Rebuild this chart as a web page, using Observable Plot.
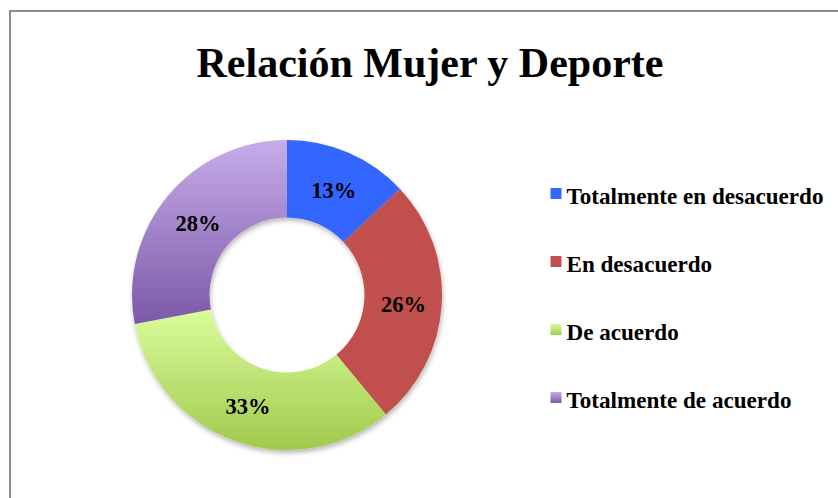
<!DOCTYPE html>
<html><head><meta charset="utf-8">
<script src="https://cdn.jsdelivr.net/npm/d3@7"></script>
<script src="https://cdn.jsdelivr.net/npm/@observablehq/plot@0.6"></script>
<style>
body{margin:0;background:#fff;}
#wrap{position:relative;width:838px;height:498px;overflow:hidden;background:#fff;font-family:"Liberation Serif","Times New Roman",serif;}
#frame{position:absolute;left:9px;top:10px;right:-10px;bottom:-10px;border-left:2px solid #8c8c8c;border-top:2px solid #8c8c8c;pointer-events:none;}
#title{position:absolute;left:0;width:860px;top:42px;text-align:center;font-size:42px;line-height:42px;font-weight:bold;color:#000;white-space:nowrap;}
#chart{position:absolute;left:0;top:0;}
#legend{position:absolute;left:540px;top:159px;}
</style></head><body>
<div id="wrap"><div id="chart"></div><div id="legend"></div><div id="title"></div><div id="frame"></div></div>
<script>
const title = "Relación Mujer y Deporte";
const categories = ["Totalmente en desacuerdo", "En desacuerdo", "De acuerdo", "Totalmente de acuerdo"];
const values = [13, 26, 33, 28];
const valueLabels = ["13%", "26%", "33%", "28%"];

const palette = ["#3366FF", "#C0504D", "url(#gGreen)", "url(#gPurple)"];
const colorOpts = {type: "ordinal", domain: categories, range: palette};
const color = Plot.scale({color: colorOpts});

const rows = categories.map((c, i) => ({category: c, value: values[i], label: valueLabels[i]}));
const slices = d3.pie().sort(null).value(d => d.value)(rows);
const INNER = 0.5, LABEL_R = 0.75;
const labelRows = slices.map(s => {
  const a = (s.startAngle + s.endAngle) / 2;
  return {label: s.data.label, x: LABEL_R * Math.sin(a), y: LABEL_R * Math.cos(a)};
});

function donut(index, scales, values, dimensions, context) {
  const cx = scales.x(0), cy = scales.y(0);
  const R = scales.x(1) - cx;
  const arc = d3.arc().innerRadius(R * INNER).outerRadius(R);
  const g = d3.create("svg:g");
  const defs = g.append("defs");
  const grad = (id, top, bottom) => {
    const lg = defs.append("linearGradient").attr("id", id).attr("x1", 0).attr("y1", 0).attr("x2", 0).attr("y2", 1);
    lg.append("stop").attr("offset", "0%").attr("stop-color", top);
    lg.append("stop").attr("offset", "100%").attr("stop-color", bottom);
  };
  grad("gGreen", "#DAFC9C", "#A1C94C");
  grad("gPurple", "#C6ADE9", "#7C58A7");
  const f = defs.append("filter").attr("id", "shadow").attr("x", "-10%").attr("y", "-10%").attr("width", "130%").attr("height", "130%");
  f.append("feDropShadow").attr("dx", 1).attr("dy", 3).attr("stdDeviation", 2.5).attr("flood-color", "#000").attr("flood-opacity", 0.28);
  g.append("g")
    .attr("transform", `translate(${cx},${cy})`)
    .attr("filter", "url(#shadow)")
    .selectAll("path").data(slices).join("path")
    .attr("d", arc)
    .attr("fill", d => color.apply(d.data.category));
  return g.node();
}

const chart = Plot.plot({
  width: 838, height: 498,
  marginLeft: 132, marginRight: 396, marginTop: 140, marginBottom: 48,
  x: {domain: [-1, 1], axis: null},
  y: {domain: [-1, 1], axis: null},
  style: {background: "transparent", fontFamily: "Liberation Serif, Times New Roman, serif"},
  marks: [
    donut,
    Plot.text(labelRows, {x: "x", y: "y", text: "label", fontSize: 22.5, fontWeight: "bold", fill: "#000", lineAnchor: "middle", dy: 2})
  ]
});
document.getElementById("chart").appendChild(chart);
document.getElementById("title").textContent = title;

const legend = Plot.plot({
  width: 298, height: 272,
  marginLeft: 0, marginRight: 0, marginTop: 0, marginBottom: 0,
  x: {domain: [0, 1], range: [0, 298], axis: null},
  y: {type: "band", domain: categories, padding: 0, axis: null},
  color: colorOpts,
  style: {background: "transparent", fontFamily: "Liberation Serif, Times New Roman, serif", overflow: "visible"},
  marks: [
    Plot.dot(rows, {x: () => 0, y: "category", fill: "category", symbol: "square", r: 6.2, dx: 15.5, stroke: "none"}),
    Plot.text(rows, {x: () => 0, y: "category", text: "category", dx: 26, textAnchor: "start", lineAnchor: "middle", dy: 3, fontSize: 23.1, fontWeight: "bold", fill: "#000"})
  ]
});
document.getElementById("legend").appendChild(legend);
</script>
</body></html>
